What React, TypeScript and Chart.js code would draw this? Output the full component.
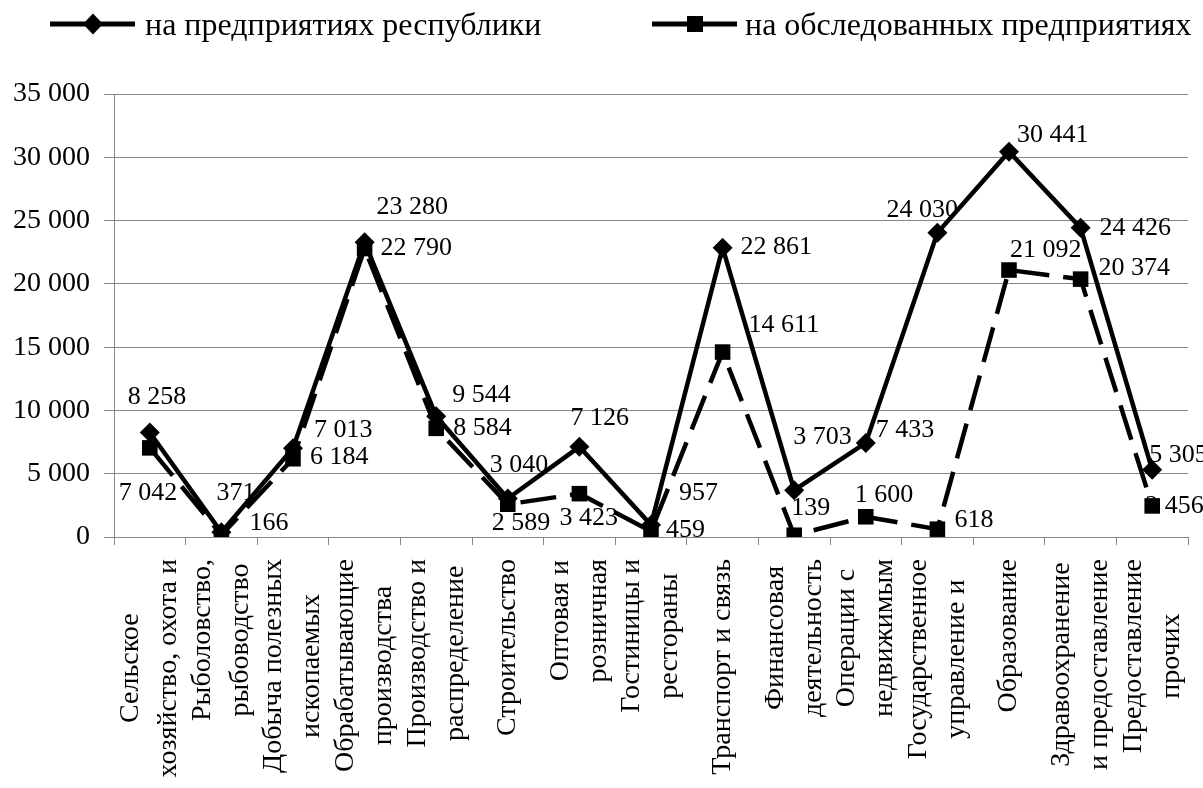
import React, { useEffect, useRef } from 'react';
import { Chart, registerables } from 'chart.js';

Chart.register(...registerables);

// ---- data ----
const categoryLines: string[][] = [
  ['Сельское', 'хозяйство, охота и'],
  ['Рыболовство,', 'рыбоводство'],
  ['Добыча полезных', 'ископаемых'],
  ['Обрабатывающие', 'производства'],
  ['Производство и', 'распределение'],
  ['Строительство'],
  ['Оптовая и', 'розничная'],
  ['Гостиницы и', 'рестораны'],
  ['Транспорт и связь'],
  ['Финансовая', 'деятельность'],
  ['Операции с', 'недвижимым'],
  ['Государственное', 'управление и'],
  ['Образование'],
  ['Здравоохранение', 'и предоставление'],
  ['Предоставление', 'прочих'],
];

const seriesNames = ['на предприятиях республики', 'на обследованных предприятиях'];

const republicValues = [8258, 371, 7013, 23280, 9544, 3040, 7126, 957, 22861, 3703, 7433, 24030, 30441, 24426, 5305];
const surveyedValues = [7042, 166, 6184, 22790, 8584, 2589, 3423, 459, 14611, 139, 1600, 618, 21092, 20374, 2456];

const yMin = 0;
const yMax = 35000;
const yStep = 5000;

// label placement offsets (label left x, label centre y) relative to the point
const republicLabelOffsets: [number, number][] = [
  [-22, -35], [-5, -39], [21, -18], [12, -35], [16, -21], [-18, -33], [-9, -29], [28, -32],
  [18, 0], [-1, -53], [10, -13], [-51, -23], [8, -17], [19, 0], [-3, -15],
];
const surveyedLabelOffsets: [number, number][] = [
  [-31, 45], [28, -12], [17, -2], [16, 0], [17, 0], [-16, 19], [-20, 24], [15, -1],
  [26, -27], [-3, -27], [-11, -22], [17, -9], [1, -20], [18, -11], [-7, 0],
];

const FONT = '"Liberation Serif", "Times New Roman", serif';
const GRID = '#868686';

const fmt = (v: number | string) => String(v).replace(/\B(?=(\d{3})+(?!\d))/g, ' ');

const valueLabelsPlugin = {
  id: 'valueLabels',
  beforeDatasetsDraw(chart: any) {
    const ctx = chart.ctx;
    const offsets = [republicLabelOffsets, surveyedLabelOffsets];
    ctx.save();
    ctx.font = `26px ${FONT}`;
    ctx.fillStyle = '#000';
    ctx.textAlign = 'left';
    ctx.textBaseline = 'middle';
    chart.data.datasets.forEach((ds: any, di: number) => {
      const meta = chart.getDatasetMeta(di);
      meta.data.forEach((pt: any, i: number) => {
        const [dx, dy] = offsets[di][i];
        ctx.fillText(fmt(ds.data[i]), pt.x + dx, pt.y + dy);
      });
    });
    ctx.restore();
  },
};

const xLabelsPlugin = {
  id: 'xLabels',
  afterDraw(chart: any) {
    const ctx = chart.ctx;
    const xs = chart.scales.x;
    const top = xs.top + 22;
    ctx.save();
    ctx.font = `28px ${FONT}`;
    ctx.fillStyle = '#000';
    ctx.textAlign = 'center';
    ctx.textBaseline = 'middle';
    categoryLines.forEach((lines, i) => {
      const cx = xs.getPixelForValue(i);
      const maxW = Math.max(...lines.map((l) => ctx.measureText(l).width));
      const cy = top + maxW / 2;
      lines.forEach((line, j) => {
        const lx = cx + (j - (lines.length - 1) / 2) * 38;
        ctx.save();
        ctx.translate(lx, cy);
        ctx.rotate(-Math.PI / 2);
        ctx.fillText(line, 0, 0);
        ctx.restore();
      });
    });
    ctx.restore();
  },
};

const legendPlugin = {
  id: 'customLegend',
  afterDraw(chart: any) {
    const ctx = chart.ctx;
    const y = 24;
    ctx.save();
    // item 1
    ctx.strokeStyle = '#000';
    ctx.fillStyle = '#000';
    ctx.lineWidth = 5;
    ctx.beginPath();
    ctx.moveTo(50, y);
    ctx.lineTo(135, y);
    ctx.stroke();
    ctx.beginPath();
    ctx.moveTo(93, y - 10.5);
    ctx.lineTo(103, y);
    ctx.lineTo(93, y + 10.5);
    ctx.lineTo(83, y);
    ctx.closePath();
    ctx.fill();
    // item 2
    ctx.setLineDash([36, 14]);
    ctx.beginPath();
    ctx.moveTo(652, y);
    ctx.lineTo(737, y);
    ctx.stroke();
    ctx.setLineDash([]);
    ctx.fillRect(687, y - 8, 16, 16);
    ctx.font = `32px ${FONT}`;
    ctx.textAlign = 'left';
    ctx.textBaseline = 'alphabetic';
    ctx.fillText(seriesNames[0], 145, 35);
    ctx.fillText(seriesNames[1], 745, 35);
    ctx.restore();
  },
};

export default function App() {
  const ref = useRef<HTMLCanvasElement | null>(null);

  useEffect(() => {
    if (!ref.current) return;
    const chart = new Chart(ref.current, {
      type: 'line',
      data: {
        labels: categoryLines.map((l) => l.join(' ')),
        datasets: [
          {
            label: seriesNames[0],
            data: republicValues,
            borderColor: '#000',
            backgroundColor: '#000',
            borderWidth: 4.5,
            pointStyle: 'rectRot',
            pointRadius: 10,
            pointBorderWidth: 0,
            pointBackgroundColor: '#000',
            tension: 0,
          },
          {
            label: seriesNames[1],
            data: surveyedValues,
            borderColor: '#000',
            backgroundColor: '#000',
            borderWidth: 4.5,
            borderDash: [36, 14],
            pointStyle: 'rect',
            pointRadius: 11,
            pointBorderWidth: 0,
            pointBackgroundColor: '#000',
            tension: 0,
          },
        ],
      },
      options: {
        responsive: false,
        animation: false,
        devicePixelRatio: 1,
        layout: { padding: { top: 94, right: 15, left: 0, bottom: 0 } },
        plugins: {
          legend: { display: false },
          tooltip: { enabled: false },
        },
        scales: {
          x: {
            type: 'category',
            offset: true,
            grid: { offset: true, drawOnChartArea: false, drawTicks: true, tickLength: 8, color: GRID },
            border: { color: GRID },
            ticks: { display: false },
            afterFit: (s: any) => {
              s.height = 251;
            },
          },
          y: {
            min: yMin,
            max: yMax,
            ticks: {
              stepSize: yStep,
              color: '#000',
              padding: 14,
              font: { family: FONT, size: 28 },
              callback: (v: any) => fmt(v),
            },
            grid: { color: GRID, tickLength: 10 },
            border: { color: GRID },
            afterFit: (s: any) => {
              s.width = 114;
            },
          },
        },
      },
      plugins: [valueLabelsPlugin, xLabelsPlugin, legendPlugin],
    } as any);
    return () => chart.destroy();
  }, []);

  return (
    <div style={{ position: 'absolute', left: 0, top: 0, width: 1203, height: 788, background: '#fff' }}>
      <canvas ref={ref} width={1203} height={788} style={{ display: 'block' }} />
    </div>
  );
}
